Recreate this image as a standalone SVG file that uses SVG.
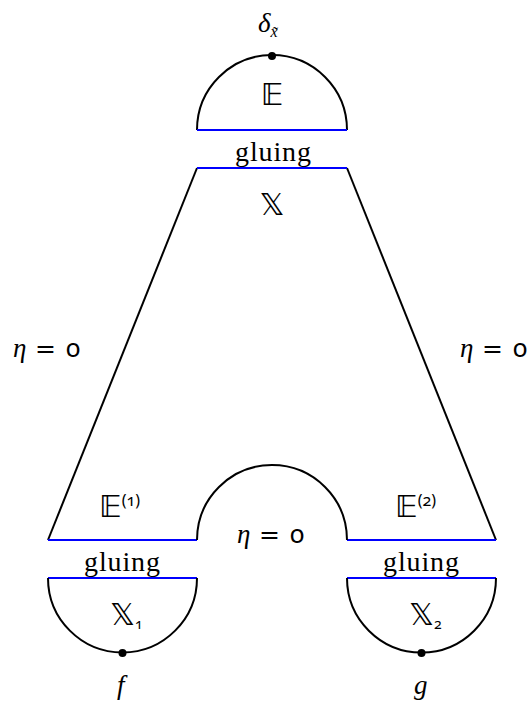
<svg xmlns="http://www.w3.org/2000/svg" width="529" height="707" viewBox="0 0 529 707">
<style>
.k{fill:none;stroke:#000;stroke-width:2}
.b{fill:none;stroke:#0000ff;stroke-width:2}
.dot{fill:#000}
.t{font-family:"Liberation Serif",serif;font-size:28px;fill:#000}
.i{font-family:"Liberation Serif",serif;font-style:italic;font-size:27px;fill:#000}
.bb{font-family:"DejaVu Sans",sans-serif;font-size:31px;fill:#000}
.n{font-family:"Noto Sans",sans-serif;font-variant-numeric:oldstyle-nums;fill:#000}
.m{font-family:"DejaVu Sans",sans-serif;font-size:25px;fill:#000}
</style>
<rect width="529" height="707" fill="#fff"/>
<g id="top-E">
<path class="k" d="M197,130 A75,75 0 0 1 347,130"/>
<line class="b" x1="197" y1="130" x2="347" y2="130"/>
<circle class="dot" cx="272" cy="56" r="4"/>
<text class="i" x="258" y="32">δ<tspan font-size="16" dy="5">x̃</tspan></text>
<text class="bb" x="272" y="105" text-anchor="middle">𝔼</text>
</g>
<g id="gluing-top">
<text class="t" x="273" y="161" text-anchor="middle" textLength="76">gluing</text>
</g>
<g id="X">
<path class="k" d="M48,540 L197,168"/>
<path class="k" d="M347,168 L496,540"/>
<line class="b" x1="197" y1="168" x2="347" y2="168"/>
<line class="b" x1="48" y1="540" x2="197" y2="540"/>
<line class="b" x1="347" y1="540" x2="496" y2="540"/>
<path class="k" d="M197,540 A75,75 0 0 1 347,540"/>
<text class="bb" x="272" y="215" text-anchor="middle">𝕏</text>
<text class="bb" x="99" y="517">𝔼<tspan class="n" font-size="16" dy="-11">(1)</tspan></text>
<text class="bb" x="395" y="517">𝔼<tspan class="n" font-size="16" dy="-11">(2)</tspan></text>
</g>
<g id="labels-eta">
<text class="i" x="13" y="357">η</text><text class="m" x="35" y="357">=</text><text class="n" font-size="26" x="66" y="357">0</text>
<text class="i" x="460" y="357">η</text><text class="m" x="482" y="357">=</text><text class="n" font-size="26" x="513" y="357">0</text>
<text class="i" x="237" y="543">η</text><text class="m" x="259" y="543">=</text><text class="n" font-size="26" x="290" y="543">0</text>
</g>
<g id="gluing-left">
<text class="t" x="122" y="571" text-anchor="middle" textLength="76">gluing</text>
</g>
<g id="gluing-right">
<text class="t" x="421" y="571" text-anchor="middle" textLength="76">gluing</text>
</g>
<g id="X1">
<line class="b" x1="48" y1="578" x2="197" y2="578"/>
<path class="k" d="M48,578 A74.5,74.5 0 0 0 197,578"/>
<circle class="dot" cx="122.5" cy="653" r="4"/>
<text class="bb" x="110" y="625">𝕏<tspan class="n" font-size="14" dy="4">1</tspan></text>
<text class="i" x="117" y="694">f</text>
</g>
<g id="X2">
<line class="b" x1="347" y1="578" x2="496" y2="578"/>
<path class="k" d="M347,578 A74.5,74.5 0 0 0 496,578"/>
<circle class="dot" cx="421.5" cy="653" r="4"/>
<text class="bb" x="409" y="625">𝕏<tspan class="n" font-size="14" dy="4">2</tspan></text>
<text class="i" x="414" y="694">g</text>
</g>
</svg>
